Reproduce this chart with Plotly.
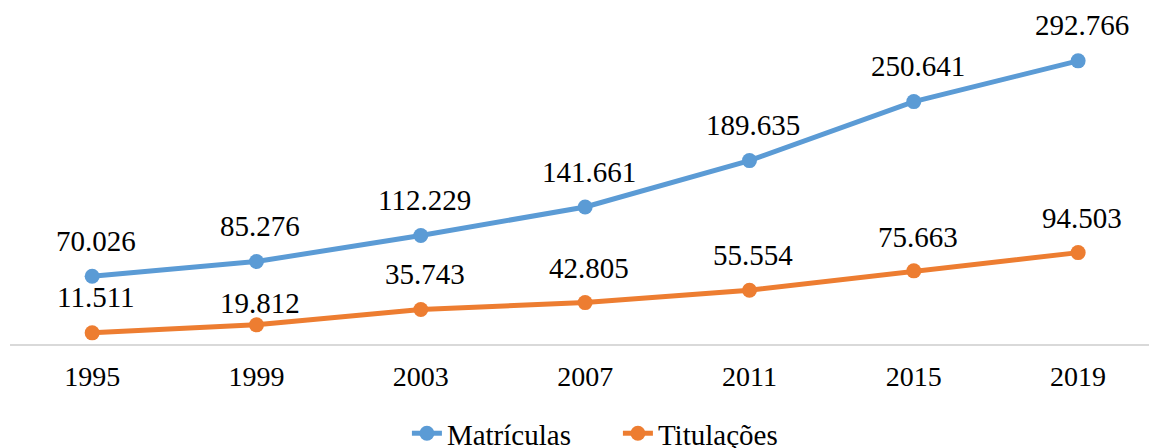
import plotly.graph_objects as go

years = ["1995", "1999", "2003", "2007", "2011", "2015", "2019"]
matriculas = [70026, 85276, 112229, 141661, 189635, 250641, 292766]
titulacoes = [11511, 19812, 35743, 42805, 55554, 75663, 94503]
mat_labels = ["70.026", "85.276", "112.229", "141.661", "189.635", "250.641", "292.766"]
tit_labels = ["11.511", "19.812", "35.743", "42.805", "55.554", "75.663", "94.503"]

# label offsets above each point (style, in px)
mat_label_shift = [35.5, 35.5, 35.5, 35.5, 35.5, 35.5, 35.5]
tit_label_shift = [35.5, 22, 35.5, 35, 35.5, 34, 35]

BLUE = "#5B9BD5"
ORANGE = "#ED7D31"
FONT = "'Liberation Serif', 'Times New Roman', Times, serif"

fig = go.Figure()
fig.add_trace(go.Scatter(x=years, y=matriculas, mode="lines+markers", name="Matrículas",
                         line=dict(color=BLUE, width=5), marker=dict(color=BLUE, size=15)))
fig.add_trace(go.Scatter(x=years, y=titulacoes, mode="lines+markers", name="Titulações",
                         line=dict(color=ORANGE, width=5), marker=dict(color=ORANGE, size=15)))

annotations = []
for i, (v, t, s) in enumerate(zip(matriculas, mat_labels, mat_label_shift)):
    annotations.append(dict(x=i, y=v, xref="x", yref="y", text=t, showarrow=False,
                            yshift=s, xshift=4,
                            font=dict(family=FONT, size=29, color="black")))
for i, (v, t, s) in enumerate(zip(titulacoes, tit_labels, tit_label_shift)):
    annotations.append(dict(x=i, y=v, xref="x", yref="y", text=t, showarrow=False,
                            yshift=s, xshift=4,
                            font=dict(family=FONT, size=29, color="black")))

fig.update_layout(
    width=1149, height=440,
    margin=dict(l=2, r=0, t=0, b=104, autoexpand=False),
    paper_bgcolor="white", plot_bgcolor="white",
    font=dict(family=FONT, size=28, color="black"),
    annotations=annotations,
    showlegend=True,
    legend=dict(orientation="h", x=0.53, xanchor="center", y=-0.266, yanchor="middle",
                font=dict(family=FONT, size=29, color="black"),
                entrywidth=166, entrywidthmode="pixels", traceorder="normal"),
    xaxis=dict(type="category", range=[-0.5, 6.48], showline=True, linecolor="#D9D9D9",
               linewidth=2, showgrid=False, zeroline=False, ticks="outside", ticklen=6,
               tickcolor="white", tickfont=dict(family=FONT, size=28, color="black")),
    yaxis=dict(range=[0, 347434], visible=False, showgrid=False, zeroline=False),
)

fig.write_html("out.html")
